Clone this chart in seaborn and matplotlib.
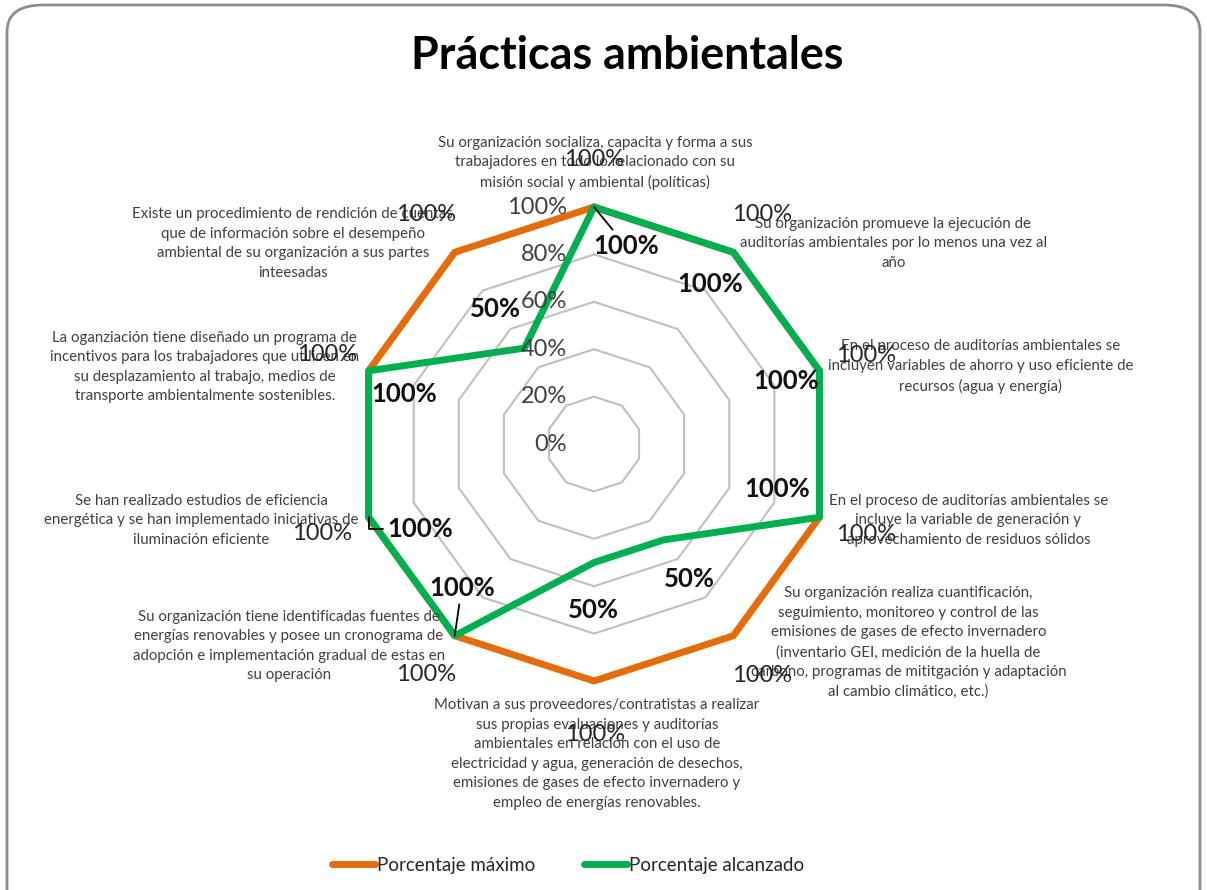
import numpy as np
import pandas as pd
import matplotlib.pyplot as plt
import seaborn as sns
from matplotlib.patches import FancyBboxPatch
from matplotlib.lines import Line2D

# data
categorias = [
    "Su organización socializa, capacita y forma a sus\ntrabajadores en todo lo relacionado con su\nmisión social y ambiental (políticas)",
    "Su organización promueve la ejecución de\nauditorías ambientales por lo menos una vez al\naño",
    "En el proceso de auditorías ambientales se\nincluyen variables de ahorro y uso eficiente de\nrecursos (agua y energía)",
    "En el proceso de auditorías ambientales se\nincluye la variable de generación y\naprovechamiento de residuos sólidos",
    "Su organización realiza cuantificación,\nseguimiento, monitoreo y control de las\nemisiones de gases de efecto invernadero\n(inventario GEI, medición de la huella de\ncarbono, programas de mititgación y adaptación\nal cambio climático, etc.)",
    "Motivan a sus proveedores/contratistas a realizar\nsus propias evaluaciones y auditorías\nambientales en relación con el uso de\nelectricidad y agua, generación de desechos,\nemisiones de gases de efecto invernadero y\nempleo de energías renovables.",
    "Su organización tiene identificadas fuentes de\nenergías renovables y posee un cronograma de\nadopción e implementación gradual de estas en\nsu operación",
    "Se han realizado estudios de eficiencia\nenergética y se han implementado iniciativas de\niluminación eficiente",
    "La oganziación tiene diseñado un programa de\nincentivos para los trabajadores que utilicen en\nsu desplazamiento al trabajo, medios de\ntransporte ambientalmente sostenibles.",
    "Existe un procedimiento de rendición de cuentas\nque de información sobre el desempeño\nambiental de su organización a sus partes\ninteesadas",
]
maximo = [1.0, 1.0, 1.0, 1.0, 1.0, 1.0, 1.0, 1.0, 1.0, 1.0]
alcanzado = [1.0, 1.0, 1.0, 1.0, 0.5, 0.5, 1.0, 1.0, 1.0, 0.5]
series = ["Porcentaje máximo", "Porcentaje alcanzado"]
colores = ["#E46C0A", "#00B050"]
anillos = [0.2, 0.4, 0.6, 0.8, 1.0]

# label offsets in pixels (dx, dy down)
off_cat = [(1, -44), (160, -9), (161, -4), (149, 3), (175, 7),
           (3, 73), (-166, 10), (-167, 3), (-164, -4), (-162, -9)]
off_max = [(0, -48), (29, -38), (47, -15), (47, 17), (29, 40),
           (1, 53), (-29, 39), (-47, 16), (-42, -16), (-29, -38)]
off_alc = [(32, 39), (-23, 32), (-33, 10), (-42, -28), (26, 39),
           (-1, 47), (7, -48), (52, 12), (36, 23), (-29, -39)]

sns.set_theme(style="white")
plt.rcParams['font.family'] = ['Lato', 'DejaVu Sans']

n = len(categorias)
theta = np.arange(n) * 2 * np.pi / n
theta_c = np.append(theta, theta[0])

rows = []
for s, vals in zip(series, [maximo, alcanzado]):
    v = list(vals) + [vals[0]]
    for t, r in zip(theta_c, v):
        rows.append({"theta": t, "valor": r, "serie": s})
df = pd.DataFrame(rows)

fig = plt.figure(figsize=(12.07, 8.9), dpi=100)
ax = fig.add_axes([0.2958, 0.2348, 0.3927, 0.5326], projection='polar')
ax.set_theta_zero_location('N')
ax.set_theta_direction(-1)
ax.patch.set_alpha(0)

for r in anillos:
    ax.plot(theta_c, [r] * (n + 1), color='#BFBFBF', lw=1.5, clip_on=False, zorder=1)

sns.lineplot(data=df, x="theta", y="valor", hue="serie", hue_order=series,
             palette=colores, sort=False, estimator=None, ax=ax, linewidth=5,
             legend=False, zorder=3)
for line in ax.lines:
    line.set_clip_on(False)
    line.set_solid_joinstyle('round')

ax.set_ylim(0, 1)
ax.grid(False)
ax.spines['polar'].set_visible(False)
ax.set_xticks([])
ax.set_yticks([])
ax.set_xlabel("")
ax.set_ylabel("")

# radial labels
for r in [0.0] + anillos:
    ax.annotate(f"{r:.0%}", xy=(0, r), xytext=(-27, 0), textcoords='offset pixels',
                ha='right', va='center', fontsize=17, color='#404040', zorder=5)

# category labels
for t, lab, (dx, dy) in zip(theta, categorias, off_cat):
    ax.annotate(lab, xy=(t, 1), xytext=(dx, -dy), textcoords='offset pixels',
                ha='center', va='center', fontsize=10.8, color='#404040',
                linespacing=1.5, zorder=4)

# data labels
for t, v, (dx, dy) in zip(theta, maximo, off_max):
    ax.annotate(f"{v:.0%}", xy=(t, v), xytext=(dx, -dy), textcoords='offset pixels',
                ha='center', va='center', fontsize=17, color='#262626', zorder=6)

leader = {0: "arc3", 6: "arc3", 7: "angle,angleA=0,angleB=90,rad=0"}
for i, (t, v, (dx, dy)) in enumerate(zip(theta, alcanzado, off_alc)):
    kw = {}
    if i in leader:
        kw['arrowprops'] = dict(arrowstyle='-', color='black', lw=1.3,
                                connectionstyle=leader[i], shrinkA=1, shrinkB=0)
    ax.annotate(f"{v:.0%}", xy=(t, v), xytext=(dx, -dy), textcoords='offset pixels',
                ha='center', va='center', fontsize=18.5, fontweight='bold',
                color='#111111', zorder=7, **kw)

fig.text(0.520, 0.937, "Prácticas ambientales", ha='center', va='center',
         fontsize=32.3, fontweight='bold', color='black')

handles = [Line2D([], [], color=c, lw=5, solid_capstyle='round') for c in colores]
fig.legend(handles, series, loc='center', bbox_to_anchor=(0.4706, 0.028), ncol=2,
           frameon=False, fontsize=13.5, handlelength=2.3, handletextpad=0.1,
           columnspacing=2.6, labelcolor='#262626')

border = FancyBboxPatch((7 / 1207, -0.05), 1193 / 1207, 1.0444,
                        boxstyle="round,pad=0,rounding_size=0.03",
                        transform=fig.transFigure, fill=False,
                        edgecolor='#8C8C8C', lw=2, clip_on=False)
fig.patches.append(border)

fig.savefig("out.png", dpi=100)
